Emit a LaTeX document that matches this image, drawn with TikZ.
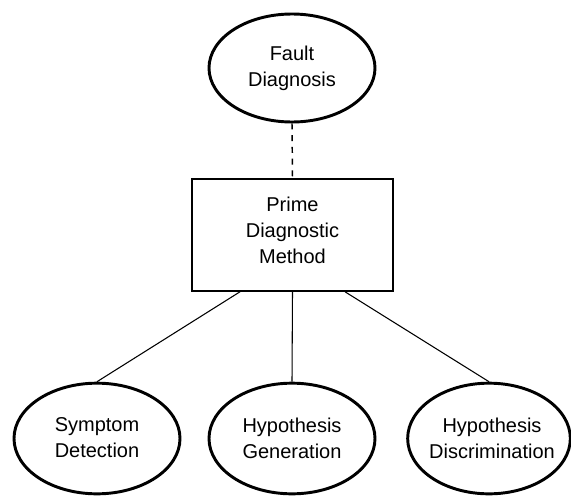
\documentclass[tikz,border=0pt]{standalone}
\usepackage{fontspec}
\setmainfont{Liberation Sans}
\usetikzlibrary{shapes.geometric}
\begin{document}
\begin{tikzpicture}[x=0.75pt,y=-0.75pt,
  oval/.style={ellipse, draw, line width=2.2pt, minimum width=124.5pt, inner sep=0pt},
  txt/.style={align=center, font=\fontsize{15}{19.5}\selectfont, inner sep=0pt},
  stepbox/.style={draw, line width=1.2pt, minimum width=150.75pt, minimum height=84pt, inner sep=0pt},
  link/.style={line width=0.8pt}
]
\useasboundingbox (0,0) rectangle (571,496);

% top concept
\node[oval, minimum height=81pt] (fd) at (292,68) {};
\node[txt] (fdt) at (292,68) {Fault\\Diagnosis};

% method box
\node[stepbox] (pdm) at (292.5,235) {};
\node[txt] (pdmt) at (292.5,230) {Prime\\Diagnostic\\Method};

% sub-tasks
\node[oval, minimum height=83pt] (sd) at (97,438.5) {};
\node[txt] (sdt) at (97,438) {Symptom\\Detection};
\node[oval, minimum height=83pt] (hg) at (292,438.5) {};
\node[txt] (hgt) at (292,438) {Hypothesis\\Generation};
\node[oval, minimum height=83pt, minimum width=122pt] (hd) at (489,438.5) {};
\node[txt] (hdt) at (492,438) {Hypothesis\\Discrimination};

% connectors
\draw[line width=1.1pt, dash pattern=on 4.5pt off 4.3pt] (fd.south) -- (pdm.north);
\draw[link] ([xshift=-39.4pt]pdm.south) -- (sd.north);
\draw[link] (pdm.south) -- (hg.north);
\draw[link] ([xshift=39.4pt]pdm.south) -- (hd.north);
\end{tikzpicture}
\end{document}
